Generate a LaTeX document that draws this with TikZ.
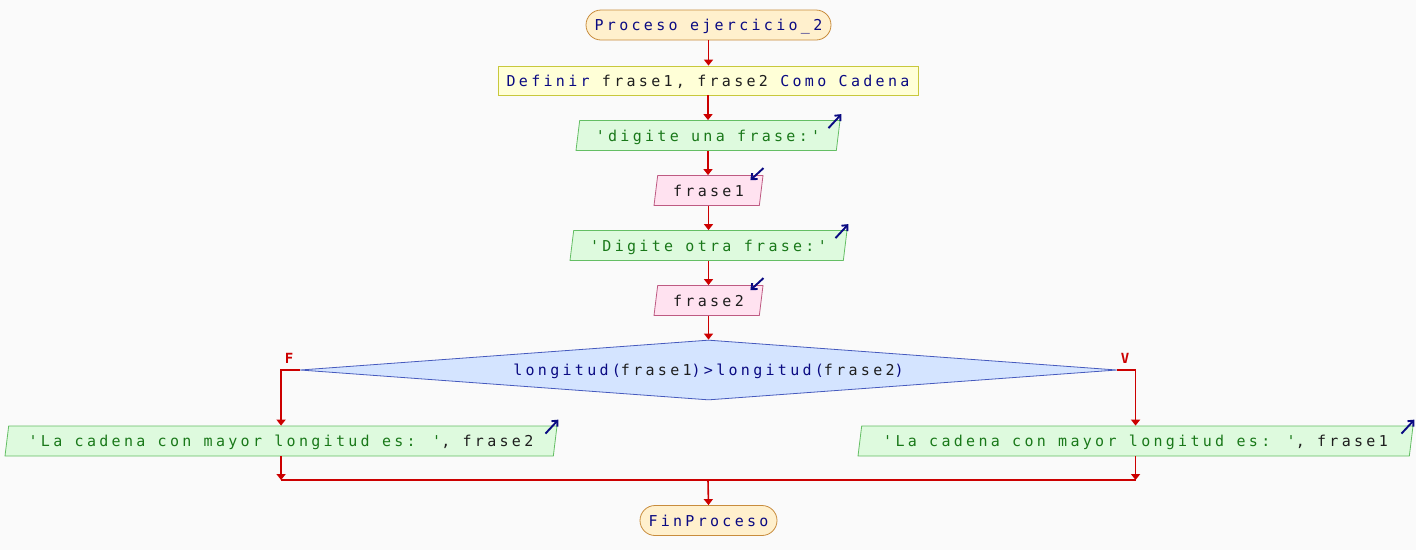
\documentclass[tikz,border=0pt]{standalone}
\usepackage{fontspec}
\usetikzlibrary{shapes.geometric,arrows.meta}
\newfontfamily\mono[LetterSpace=22]{DejaVu Sans Mono}
\newfontfamily\monob{DejaVu Sans Mono Bold}
\definecolor{kw}{RGB}{10,10,130}
\definecolor{strc}{RGB}{25,120,25}
\definecolor{varc}{RGB}{30,30,30}
\definecolor{bg}{RGB}{250,250,250}
\definecolor{arr}{RGB}{204,0,0}
\definecolor{termfill}{RGB}{255,240,205}
\definecolor{termdraw}{RGB}{200,140,60}
\definecolor{deffill}{RGB}{255,255,215}
\definecolor{defdraw}{RGB}{200,200,60}
\definecolor{outfill}{RGB}{222,250,222}
\definecolor{outdraw}{RGB}{100,190,100}
\definecolor{infill}{RGB}{255,226,240}
\definecolor{indraw}{RGB}{190,90,130}
\definecolor{decfill}{RGB}{212,228,255}
\definecolor{decdraw}{RGB}{70,90,190}
\newcommand{\K}[1]{\textcolor{kw}{#1}}
\newcommand{\Sx}[1]{\textcolor{strc}{#1}}
\newcommand{\V}[1]{\textcolor{varc}{#1}}
\begin{document}
\begin{tikzpicture}[x=1pt,y=-1pt,
  base/.style={font=\mono\fontsize{15}{17}\selectfont, inner sep=0pt, line width=0.8pt, text height=11pt, text depth=0pt},
  term/.style={base, rectangle, rounded corners=15pt, fill=termfill, draw=termdraw, minimum height=30pt},
  defbox/.style={base, rectangle, fill=deffill, draw=defdraw, minimum height=29pt},
  para/.style={base, trapezium, trapezium left angle=71.5, trapezium right angle=108.5, trapezium stretches body, minimum height=30pt},
  outbox/.style={para, fill=outfill, draw=outdraw},
  inbox/.style={para, fill=infill, draw=indraw},
  decbox/.style={base, diamond, fill=decfill, draw=decdraw, aspect=13.6, minimum width=817pt, minimum height=60pt},
  flow/.style={draw=arr, line width=1.6pt, -{Triangle[length=6pt,width=9pt]}},
  flowline/.style={draw=arr, line width=1.6pt},
  ioarrow/.style={draw=kw, line width=1.9pt, -{Straight Barb[length=4.5pt,width=8pt]}},
  lbl/.style={font=\monob\fontsize{14}{16}\selectfont, text=arr, inner sep=0pt}
]
\fill[bg] (0,0) rectangle (1416,550);
\node[term, minimum width=245pt] (start) at (708.5,25) {\K{Proceso ejercicio\_2}};
\node[defbox, minimum width=420pt] (def) at (708,80.5) {\K{Definir} \V{frase1, frase2} \K{Como Cadena}};
\node[outbox, minimum width=264pt] (in1) at (708,135.5) {\Sx{'digite una frase:'}};
\node[inbox, minimum width=109pt] (rd1) at (708.5,190.5) {\V{frase1}};
\node[outbox, minimum width=277pt] (in2) at (708.5,245.5) {\Sx{'Digite otra frase:'}};
\node[inbox, minimum width=109pt] (rd2) at (708.5,300.5) {\V{frase2}};
\node[decbox] (dec) at (708.5,370) {\K{longitud(}\V{frase1}\K{)>longitud(}\V{frase2}\K{)}};
\node[outbox, minimum width=552pt] (outL) at (281,441) {\Sx{'La cadena con mayor longitud es: '}\V{, frase2}};
\node[outbox, minimum width=555pt] (outR) at (1135.5,441) {\Sx{'La cadena con mayor longitud es: '}\V{, frase1}};
\node[term, minimum width=137pt] (end) at (708.5,520.5) {\K{FinProceso}};
\coordinate (m) at (708,480);
% io arrows
\draw[ioarrow] ([shift={(-12,8)}]in1.top right corner) -- ([shift={(1,-6)}]in1.top right corner);
\draw[ioarrow] ([shift={(-12,8)}]in2.top right corner) -- ([shift={(1,-6)}]in2.top right corner);
\draw[ioarrow] ([shift={(-12,8)}]outL.top right corner) -- ([shift={(1,-6)}]outL.top right corner);
\draw[ioarrow] ([shift={(-12,8)}]outR.top right corner) -- ([shift={(1,-6)}]outR.top right corner);
\draw[ioarrow] ([shift={(0,-7)}]rd1.top right corner) -- ([shift={(-13,5)}]rd1.top right corner);
\draw[ioarrow] ([shift={(0,-7)}]rd2.top right corner) -- ([shift={(-13,5)}]rd2.top right corner);
% flow
\draw[flow] (start.south) -- (start.south |- def.north);
\draw[flow] (def.south) -- (def.south |- in1.north);
\draw[flow] (in1.south) -- (in1.south |- rd1.north);
\draw[flow] (rd1.south) -- (rd1.south |- in2.north);
\draw[flow] (in2.south) -- (in2.south |- rd2.north);
\draw[flow] (rd2.south) -- (rd2.south |- dec.north);
\draw[flow] (dec.west) -| (outL.north);
\draw[flow] (dec.east) -| (outR.north);
\node[lbl] (lF) at (289,358) {F};
\node[lbl] (lV) at (1125,358) {V};
\draw[flow] (outL.south) -- (outL.south |- m);
\draw[flow] (outR.south) -- (outR.south |- m);
\draw[flowline] (outL.south |- m) -- (outR.south |- m);
\draw[flow] (m) -- (end.north);
\end{tikzpicture}
\end{document}
